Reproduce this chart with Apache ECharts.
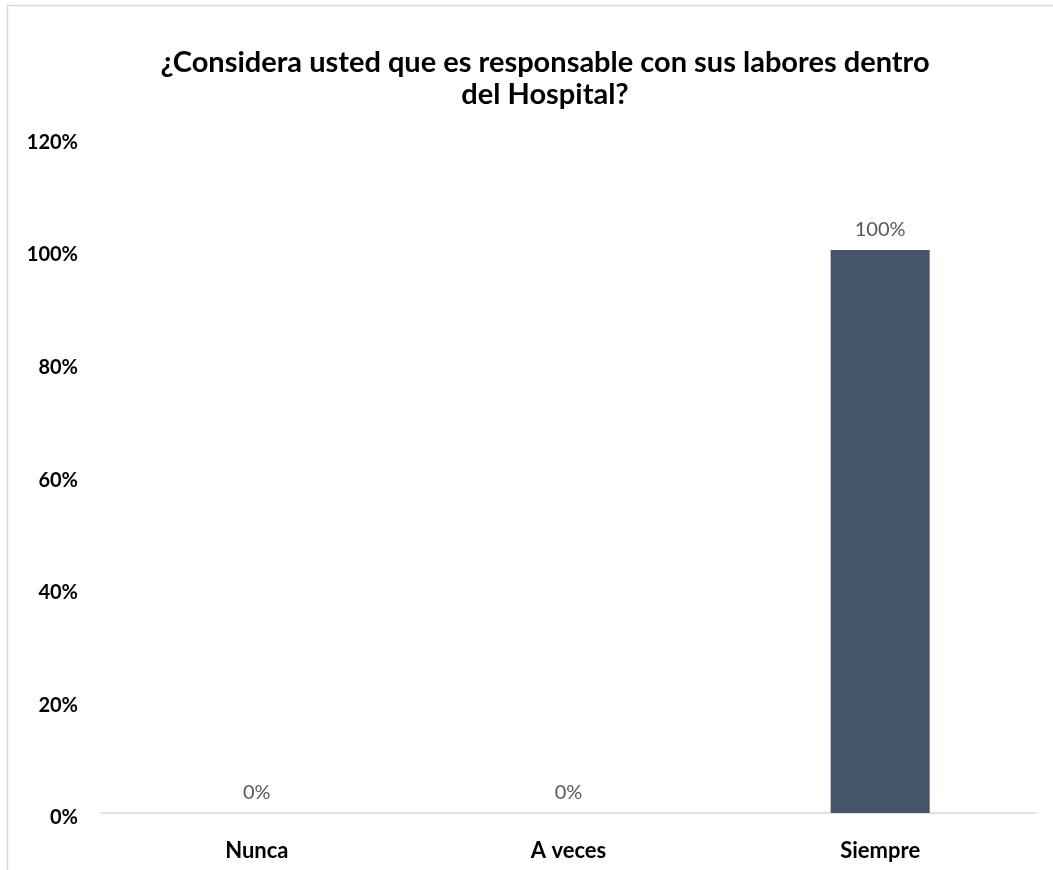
<!DOCTYPE html>
<html><head><meta charset="utf-8">
<script src="https://cdn.jsdelivr.net/npm/echarts@6/dist/echarts.min.js"></script>
<style>html,body{margin:0;padding:0;background:#fff}#c{width:1053px;height:870px}</style>
</head><body><div id="c"></div>
<script>
const titleText = '¿Considera usted que es responsable con sus labores dentro\ndel Hospital?';
const categories = ['Nunca', 'A veces', 'Siempre'];
const values = [0, 0, 100];
const yTicks = [0, 20, 40, 60, 80, 100, 120];

const chart = echarts.init(document.getElementById('c'), null, {renderer: 'canvas'});
chart.setOption({
  animation: false,
  backgroundColor: '#fff',
  graphic: [{
    type: 'rect', silent: true, z: -1,
    shape: {x: 7.5, y: 5.5, width: 1100, height: 900},
    style: {fill: 'none', stroke: '#d9d9d9', lineWidth: 1.5}
  }],
  title: {
    text: titleText, left: 540, top: 42, textAlign: 'center',
    textStyle: {fontFamily: 'Lato', fontWeight: 'bold', fontSize: 29, lineHeight: 32, color: '#000'}
  },
  grid: {left: 101, right: 17, top: 137.4, bottom: 57, containLabel: false},
  xAxis: {
    type: 'category', data: categories,
    axisLine: {lineStyle: {color: '#d9d9d9', width: 1.5}},
    axisTick: {show: false},
    axisLabel: {margin: 27, color: '#000', fontFamily: 'Lato', fontWeight: 'bold', fontSize: 22}
  },
  yAxis: {
    type: 'value', min: 0, max: 120, interval: 20,
    axisLine: {show: false}, axisTick: {show: false}, splitLine: {show: false},
    axisLabel: {
      margin: 23, color: '#000', fontFamily: 'Lato', fontWeight: 'bold', fontSize: 20,
      verticalAlign: 'top', lineHeight: 10,
      formatter: v => yTicks.includes(v) ? v + '%' : ''
    }
  },
  series: [{
    type: 'bar', data: values, barWidth: 99,
    itemStyle: {color: '#44546A'},
    label: {show: true, position: 'top', distance: 10, formatter: p => p.value + '%',
      color: '#595959', fontFamily: 'Lato', fontSize: 20}
  }]
});
</script></body></html>
